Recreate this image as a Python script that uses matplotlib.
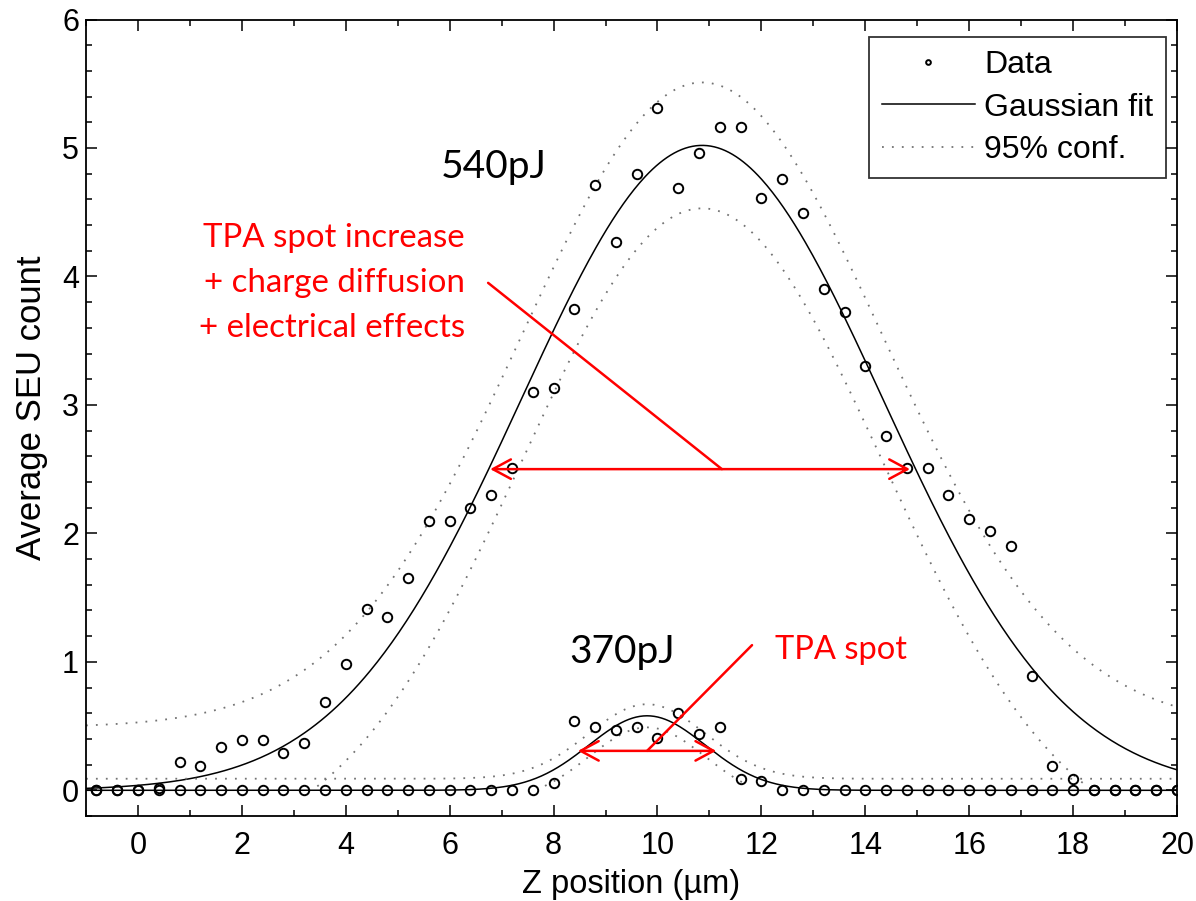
import numpy as np
import matplotlib.pyplot as plt
from matplotlib.ticker import MultipleLocator

# Z scan positions (µm)
z_pos = [-0.8, -0.4, 0.0, 0.4, 0.8, 1.2, 1.6, 2.0, 2.4, 2.8, 3.2, 3.6, 4.0, 4.4,
         4.8, 5.2, 5.6, 6.0, 6.4, 6.8, 7.2, 7.6, 8.0, 8.4, 8.8, 9.2, 9.6, 10.0,
         10.4, 10.8, 11.2, 11.6, 12.0, 12.4, 12.8, 13.2, 13.6, 14.0, 14.4, 14.8,
         15.2, 15.6, 16.0, 16.4, 16.8, 17.2, 17.6, 18.0, 18.4, 18.8, 19.2, 19.6, 20.0]

# Average SEU count at 540 pJ
seu_540 = [0, 0, 0, 0.02, 0.22, 0.19, 0.34, 0.39, 0.39, 0.29, 0.37, 0.69, 0.98, 1.41,
           1.35, 1.65, 2.10, 2.10, 2.20, 2.30, 2.51, 3.10, 3.13, 3.75, 4.71, 4.27, 4.80, 5.31,
           4.69, 4.96, 5.16, 5.16, 4.61, 4.76, 4.49, 3.90, 3.72, 3.30, 2.76, 2.51,
           2.51, 2.30, 2.11, 2.02, 1.90, 0.89, 0.19, 0.09, 0, 0, 0, 0, 0]

# Average SEU count at 370 pJ
seu_370 = [0, 0, 0, 0, 0, 0, 0, 0, 0, 0, 0, 0, 0, 0,
           0, 0, 0, 0, 0, 0, 0, 0, 0.06, 0.54, 0.49, 0.47, 0.49, 0.41,
           0.60, 0.44, 0.49, 0.09, 0.07, 0, 0, 0, 0, 0, 0, 0,
           0, 0, 0, 0, 0, 0, 0, 0, 0, 0, 0, 0, 0]

# Gaussian fit parameters: amplitude, centre, sigma; half-width of 95% band
fit_540 = (5.02, 10.86, 3.48)
band_540 = 0.49
fit_370 = (0.58, 9.80, 1.12)
band_370 = 0.09


def gauss(x, amp, mu, sig):
    return amp * np.exp(-(x - mu) ** 2 / (2 * sig ** 2))


plt.rcParams['font.family'] = ['Liberation Sans', 'DejaVu Sans']

fig = plt.figure(figsize=(11.96, 9.01), dpi=100)
ax = fig.add_axes([86 / 1196, 1 - 816 / 901, 1091 / 1196, 796.5 / 901])

xf = np.linspace(-1, 20, 600)
dot_style = dict(color='0.45', lw=1.3, linestyle=(0, (1, 4.5)))

for params, band in ((fit_540, band_540), (fit_370, band_370)):
    yfit = gauss(xf, *params)
    upper = yfit + band
    lower = yfit - band
    lower = np.where(lower >= 0.03, lower, np.nan)
    ax.plot(xf, upper, **dot_style)
    ax.plot(xf, lower, **dot_style)
    ax.plot(xf, yfit, color='black', lw=1.1)

mk = dict(linestyle='none', marker='o', mfc='none', mec='black', ms=6.8, mew=1.4)
ax.plot(z_pos, seu_370, **mk)
ax.plot(z_pos, seu_540, **mk)

# legend proxies
h_data, = ax.plot([], [], **mk)
h_fit, = ax.plot([], [], color='black', lw=1.1)
h_conf, = ax.plot([], [], **dot_style)
leg = ax.legend([h_data, h_fit, h_conf], ['Data', 'Gaussian fit', '95% conf.'],
                loc='upper right', bbox_to_anchor=(0.990, 0.978), borderaxespad=0,
                fontsize=23, frameon=True, fancybox=False, markerscale=0.5,
                handlelength=2.9, handletextpad=0.3, labelspacing=0.4,
                borderpad=0.4)
leg.get_frame().set_edgecolor('black')
leg.get_frame().set_linewidth(1.3)

ax.set_xlim(-1, 20)
ax.set_ylim(-0.2, 6)
ax.xaxis.set_major_locator(MultipleLocator(2))
ax.xaxis.set_minor_locator(MultipleLocator(1))
ax.yaxis.set_major_locator(MultipleLocator(1))
ax.yaxis.set_minor_locator(MultipleLocator(0.2))
ax.tick_params(which='both', direction='in', top=True, right=True, width=1.1)
ax.tick_params(which='major', length=8, labelsize=22)
ax.tick_params(which='minor', length=4.5)
ax.tick_params(axis='x', which='major', pad=10.5)
ax.tick_params(axis='y', which='major', pad=5)
for s in ax.spines.values():
    s.set_linewidth(1.3)

ax.set_xlabel('Z position (µm)', fontsize=23.5)
ax.set_ylabel('Average SEU count', fontsize=25)
ax.xaxis.set_label_coords(0.5, -0.067)
ax.yaxis.set_label_coords(-0.035, 0.513)

# energy labels
ax.text(5.83, 4.77, '540pJ', fontsize=28, family='Lato', color='black', va='baseline')
ax.text(8.30, 0.99, '370pJ', fontsize=28, family='Lato', color='black', va='baseline')

# annotations
red = '#ff0000'
for txt, yb in (('TPA spot increase', 4.23), ('+ charge diffusion', 3.88),
                ('+ electrical effects', 3.53)):
    ax.text(6.29, yb, txt, fontsize=23.8, family='Lato', color=red, ha='right', va='baseline')
ax.text(12.26, 1.02, 'TPA spot', fontsize=23.5, family='Lato', color=red, va='baseline')

arrow2 = dict(arrowstyle='<->,head_length=1.3,head_width=0.7', color=red, lw=1.8,
              shrinkA=0, shrinkB=0, mutation_scale=10)
line = dict(arrowstyle='-', color=red, lw=1.8, shrinkA=0, shrinkB=0)
ax.annotate('', xy=(6.78, 2.50), xytext=(14.86, 2.50), arrowprops=arrow2)
ax.annotate('', xy=(6.74, 3.95), xytext=(11.24, 2.50), arrowprops=line)
ax.annotate('', xy=(8.47, 0.307), xytext=(11.13, 0.307), arrowprops=arrow2)
ax.annotate('', xy=(9.80, 0.307), xytext=(11.82, 1.13), arrowprops=line)

fig.savefig('out.png', dpi=100, facecolor='white')
